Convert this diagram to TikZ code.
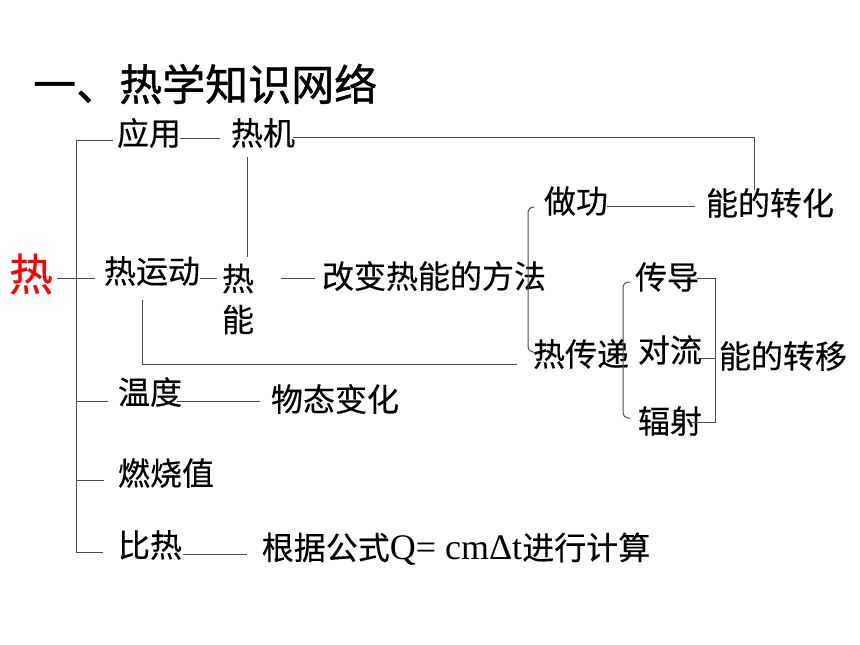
\documentclass[tikz,border=0pt]{standalone}
\usepackage{fontspec}
\setmainfont{Noto Sans CJK SC}[FakeBold=0.3]
\newfontfamily\ttlfont{Noto Sans CJK SC}[FakeBold=1]
\newfontfamily\tnr{Liberation Serif}
\newcommand*{\txtsz}{\fontsize{32}{41}\selectfont}
\newcommand*{\ttlsz}{\ttlfont\fontsize{43}{50}\selectfont}
\newcommand*{\hotsz}{\fontsize{44}{50}\selectfont}

\begin{document}
\begin{tikzpicture}[x=1pt, y=-1pt, font=\txtsz,
    lbl/.style={inner sep=0pt},
    ln/.style={draw=black!70, line width=1pt}]
    \useasboundingbox (0,0) rectangle (860,645);
    \node [lbl, anchor=west, font=\ttlsz] (title) at (33,84) {一、热学知识网络};
    \node [lbl, text=red, font=\hotsz] (hot) at (31,274) {热};
    \node [lbl] (yingyong)  at (149,133) {应用};
    \node [lbl] (reji)      at (263,133) {热机};
    \node [lbl] (yundong)   at (152,271) {热运动};
    \node [lbl, align=center] (reneng) at (238,299) {热\\能};
    \node [lbl] (gaibian)   at (434,276) {改变热能的方法};
    \node [lbl] (wendu)     at (150,392) {温度};
    \node [lbl] (wutai)     at (335,399) {物态变化};
    \node [lbl] (zuogong)   at (576,201) {做功};
    \node [lbl] (zhuanhua)  at (770,203) {能的转化};
    \node [lbl] (chuandi)   at (581,354) {热传递};
    \node [lbl] (chuandao)  at (667,277) {传导};
    \node [lbl] (duiliu)    at (670,350) {对流};
    \node [lbl] (fushe)     at (670,421) {辐射};
    \node [lbl] (zhuanyi)   at (783,356) {能的转移};
    \node [lbl] (ranshao)   at (166,473) {燃烧值};
    \node [lbl] (bire)      at (150,545) {比热};
    \node [lbl] (gongshi)   at (456,549) {根据公式{\tnr\fontsize{36}{41}\selectfont Q= cmΔt}进行计算};
    % trunk
    \draw [ln] (113,140) -- (76,140) -- (76,552) -- (103,552);
    \draw [ln] (57,278) -- (95,278);
    \draw [ln] (76,401) -- (108,401);
    \draw [ln] (76,480) -- (104,480);
    % branches
    \draw [ln] (180,138) -- (220,138);
    \draw [ln] (293,137) -- (754,137) -- (754,190);
    \draw [ln] (247,157) -- (247,257);
    \draw [ln] (200,278) -- (217,278);
    \draw [ln] (281,278) -- (315,278);
    \draw [ln] (142,300) -- (142,364) -- (517,364);
    \draw [ln] (177,401) -- (260,401);
    \draw [ln] (607,206) -- (695,206);
    \draw [ln] (183,554) -- (247,554);
    % brackets
    \draw [ln, rounded corners=5pt] (534,207) -- (528,207) -- (528,352) -- (534,352);
    \draw [ln, rounded corners=5pt] (630,282) -- (623,282) -- (623,418) -- (630,418);
    \draw [ln] (697,278) -- (715,278) -- (715,422) -- (690,422);
    \draw [ln] (698,358) -- (715,358);
\end{tikzpicture}
\end{document}
